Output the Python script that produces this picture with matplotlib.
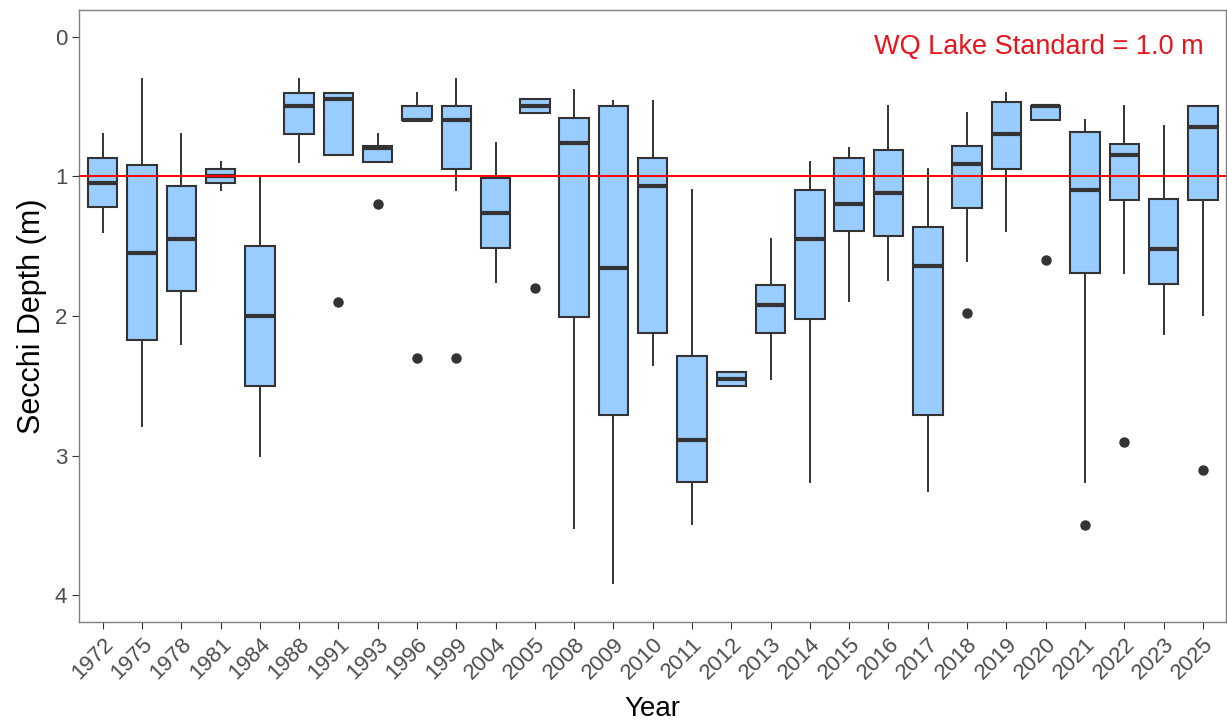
import matplotlib
matplotlib.use("Agg")
import matplotlib.pyplot as plt

plt.rcParams['font.family'] = ['Liberation Sans', 'DejaVu Sans']

# Secchi depth box statistics per year (m)
years = ['1972', '1975', '1978', '1981', '1984', '1988', '1991', '1993', '1996', '1999',
         '2004', '2005', '2008', '2009', '2010', '2011', '2012', '2013', '2014', '2015',
         '2016', '2017', '2018', '2019', '2020', '2021', '2022', '2023', '2025']
whisker_top = [0.70, 0.30, 0.70, 0.90, 1.00, 0.30, 0.40, 0.70, 0.40, 0.30,
               0.76, 0.45, 0.38, 0.46, 0.46, 1.10, 2.40, 1.45, 0.90, 0.80,
               0.50, 0.95, 0.55, 0.40, 0.50, 0.60, 0.50, 0.64, 0.50]
q1 = [0.87, 0.92, 1.07, 0.95, 1.50, 0.40, 0.40, 0.78, 0.50, 0.50,
      1.01, 0.45, 0.58, 0.50, 0.87, 2.29, 2.40, 1.78, 1.10, 0.87,
      0.81, 1.36, 0.78, 0.47, 0.50, 0.68, 0.77, 1.16, 0.50]
median = [1.05, 1.55, 1.45, 1.00, 2.00, 0.50, 0.45, 0.80, 0.60, 0.60,
          1.26, 0.50, 0.76, 1.66, 1.07, 2.89, 2.45, 1.92, 1.45, 1.20,
          1.12, 1.64, 0.91, 0.70, 0.50, 1.10, 0.85, 1.52, 0.65]
q3 = [1.22, 2.17, 1.82, 1.05, 2.50, 0.70, 0.85, 0.90, 0.60, 0.95,
      1.51, 0.55, 2.01, 2.71, 2.12, 3.19, 2.50, 2.12, 2.02, 1.39,
      1.43, 2.71, 1.23, 0.95, 0.60, 1.69, 1.17, 1.77, 1.17]
whisker_bottom = [1.40, 2.79, 2.20, 1.10, 3.00, 0.90, 0.85, 0.90, 0.60, 1.10,
                  1.76, 0.55, 3.52, 3.91, 2.35, 3.49, 2.50, 2.45, 3.19, 1.89,
                  1.74, 3.25, 1.61, 1.39, 0.60, 3.19, 1.69, 2.13, 1.99]
outliers = {'1991': [1.90], '1993': [1.20], '1996': [2.30], '1999': [2.30],
            '2005': [1.80], '2018': [1.98], '2020': [1.60], '2021': [3.50],
            '2022': [2.90], '2025': [3.10]}
standard = 1.0

# build the stats list that bxp wants
stats = []
for i, yr in enumerate(years):
    stats.append({'label': yr, 'whislo': whisker_top[i], 'q1': q1[i], 'med': median[i],
                  'q3': q3[i], 'whishi': whisker_bottom[i], 'fliers': outliers.get(yr, [])})

fig = plt.figure(figsize=(12.27, 7.23), dpi=100)
ax = fig.add_axes([0.0645, 0.14, 0.935, 0.846])

edge = '#333333'
ax.bxp(stats, positions=range(1, len(years) + 1), widths=0.75, patch_artist=True,
       showcaps=False,
       boxprops=dict(facecolor='#99CCFF', edgecolor=edge, linewidth=1.5),
       medianprops=dict(color=edge, linewidth=3),
       whiskerprops=dict(color=edge, linewidth=1.4),
       flierprops=dict(marker='o', markerfacecolor=edge, markeredgecolor=edge, markersize=6.5))

ax.axhline(standard, color='red', linewidth=1.4, zorder=5)
ax.text(0.980, 0.928, 'WQ Lake Standard = 1.0 m', transform=ax.transAxes, color='#E8141C',
        fontsize=19.5, ha='right', va='baseline')

ax.set_xlim(0.4, len(years) + 0.6)
ax.set_ylim(4.19, -0.19)
ax.set_yticks([0, 1, 2, 3, 4])
ax.set_xticks(range(1, len(years) + 1))
ax.set_xticklabels(years, rotation=45, ha='right', rotation_mode='anchor')
ax.tick_params(axis='both', colors='#333333', labelcolor='#4D4D4D', labelsize=16, length=5)
for s in ax.spines.values():
    s.set_color('#7F7F7F')
    s.set_linewidth(1)

ax.set_xlabel('Year', fontsize=20, labelpad=9)
ax.set_ylabel('Secchi Depth (m)', fontsize=22, labelpad=6)

fig.savefig('out.png', dpi=100)
